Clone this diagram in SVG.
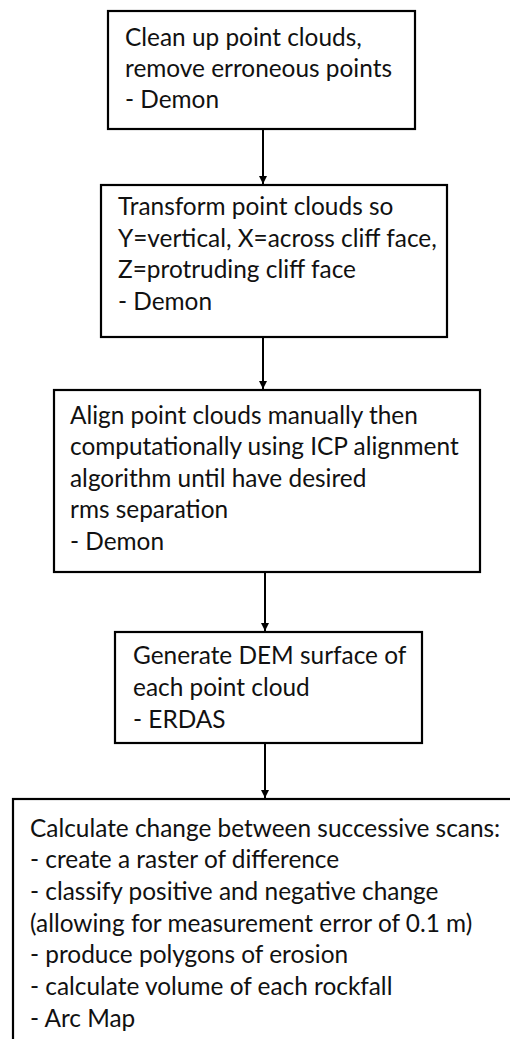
<svg xmlns="http://www.w3.org/2000/svg" width="510" height="1039" viewBox="0 0 510 1039">
  <style>
    .box { fill: #ffffff; stroke: #000000; stroke-width: 2.2; }
    .t { font-family: Lato, "Liberation Sans", sans-serif; font-size: 24.4px; fill: #111111; }
    .conn { stroke: #000000; stroke-width: 2; fill: none; marker-end: url(#arr); }
  </style>
  <defs>
    <marker id="arr" markerWidth="10" markerHeight="10" refX="8" refY="4" orient="auto" markerUnits="userSpaceOnUse">
      <path d="M0,0 L8,4 L0,8 Z" fill="#000000"/>
    </marker>
  </defs>
  <rect x="0" y="0" width="510" height="1039" fill="#ffffff"/>
  <g id="connectors">
    <line class="conn" x1="263" y1="130" x2="263" y2="184"/>
    <line class="conn" x1="263" y1="338" x2="263" y2="389"/>
    <line class="conn" x1="265" y1="573" x2="265" y2="631"/>
    <line class="conn" x1="265" y1="744" x2="265" y2="798"/>
  </g>
  <g id="node1">
    <rect class="box" x="108" y="11" width="307" height="118"/>
    <text class="t" x="125" y="46">Clean up point clouds,</text>
    <text class="t" x="125" y="77">remove erroneous points</text>
    <text class="t" x="125" y="108">- Demon</text>
  </g>
  <g id="node2">
    <rect class="box" x="101" y="185" width="346" height="152"/>
    <text class="t" x="118" y="215">Transform point clouds so</text>
    <text class="t" x="118" y="247">Y=vertical, X=across cliff face,</text>
    <text class="t" x="118" y="278">Z=protruding cliff face</text>
    <text class="t" x="118" y="310">- Demon</text>
  </g>
  <g id="node3">
    <rect class="box" x="54" y="390" width="426" height="182"/>
    <text class="t" x="70" y="424">Align point clouds manually then</text>
    <text class="t" x="70" y="455">computationally using ICP alignment</text>
    <text class="t" x="70" y="487">algorithm until have desired</text>
    <text class="t" x="70" y="518">rms separation</text>
    <text class="t" x="70" y="550">- Demon</text>
  </g>
  <g id="node4">
    <rect class="box" x="115" y="632" width="307" height="111"/>
    <text class="t" x="133" y="664">Generate DEM surface of</text>
    <text class="t" x="133" y="696">each point cloud</text>
    <text class="t" x="133" y="728">- ERDAS</text>
  </g>
  <g id="node5">
    <rect class="box" x="13" y="799" width="520" height="260"/>
    <text class="t" x="30" y="837">Calculate change between successive scans:</text>
    <text class="t" x="30" y="868">- create a raster of difference</text>
    <text class="t" x="30" y="900">- classify positive and negative change</text>
    <text class="t" x="30" y="932">(allowing for measurement error of 0.1 m)</text>
    <text class="t" x="30" y="963">- produce polygons of erosion</text>
    <text class="t" x="30" y="995">- calculate volume of each rockfall</text>
    <text class="t" x="30" y="1027">- Arc Map</text>
  </g>
</svg>
